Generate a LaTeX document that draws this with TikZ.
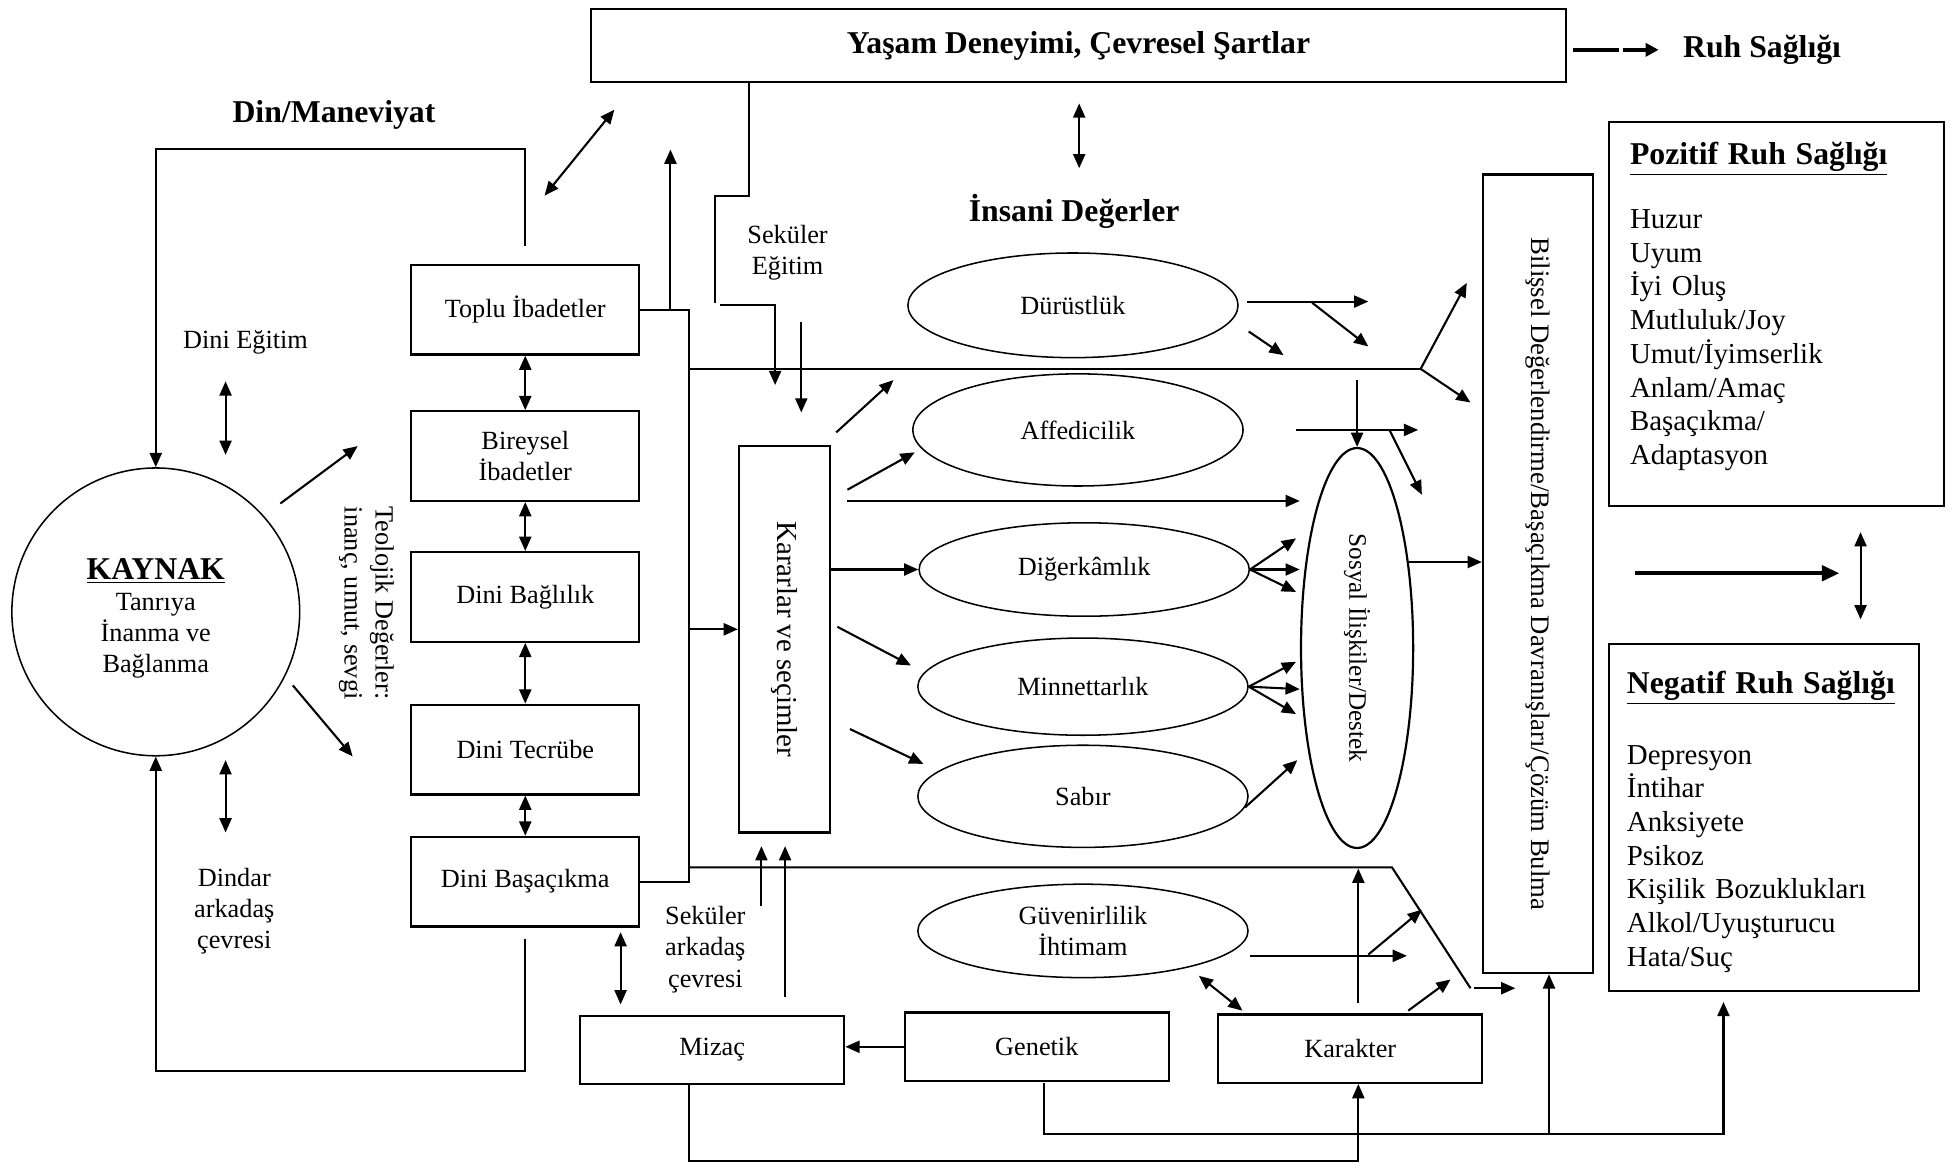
\documentclass[tikz,border=0pt]{standalone}
\usepackage{fontspec}
\setmainfont{Liberation Serif}
\usepackage{graphicx}
\usetikzlibrary{arrows.meta,shapes.geometric}
\newcommand{\bodyfs}{\fontsize{12}{14.2}\selectfont}
\newcommand{\headfs}{\fontsize{14.5}{17}\selectfont\bfseries}
\newcommand{\listfs}{\fontsize{13.2}{15.4}\selectfont}
\begin{document}
\begin{tikzpicture}
[x=0.02cm,y=-0.02cm,font=\bodyfs,
relbox/.style={draw,line width=1pt,minimum width=3.66cm,minimum height=1.44cm,align=center},
valell/.style={draw,ellipse,line width=0.7pt,minimum width=5.3cm,inner sep=0pt,align=center},
botbox/.style={draw,line width=1pt,minimum width=4.24cm,minimum height=1.1cm},
lbl/.style={align=center},
conn/.style={line width=0.95pt},
arr/.style={conn,-{Triangle[length=6.5pt,width=5.5pt]}},
darr/.style={conn,{Triangle[length=6.5pt,width=5.5pt]}-{Triangle[length=6.5pt,width=5.5pt]}},
thkarr/.style={line width=1.8pt,-{Triangle[length=8pt,width=7pt]}}]
\useasboundingbox (0,0) rectangle (1568,933);
% nodes
\node[draw,line width=1pt,minimum width=15.66cm,minimum height=1.18cm,font=\headfs] (yasam) at (865.5,36.5) {Yaşam Deneyimi, Çevresel Şartlar};
\node[font=\headfs] (ruh) at (1414,40) {Ruh Sağlığı};
\node[font=\headfs] (dinman) at (268,92) {Din/Maneviyat};
\node[font=\headfs] (insani) at (862,170) {İnsani Değerler};
\node[draw,circle,line width=0.7pt,minimum size=4.62cm,align=center] (kaynak) at (125,491) {{\headfs\rule{0pt}{15.5pt}\underline{KAYNAK}}\\Tanrıya\\İnanma ve\\Bağlanma};
\node[lbl] (dinegitim) at (197,275) {Dini Eğitim};
\node[lbl] (dindar) at (188,731) {Dindar\\arkadaş\\çevresi};
\node[lbl,rotate=-90] (teoloji) at (294,484) {Teolojik Değerler:\\inanç, umut, sevgi};
\node[relbox] (toplu) at (421.5,248.5) {Toplu İbadetler};
\node[relbox] (bireysel) at (421.5,366) {Bireysel\\İbadetler};
\node[relbox] (baglilik) at (421.5,479) {Dini Bağlılık};
\node[relbox] (tecrube) at (421.5,601.5) {Dini Tecrübe};
\node[relbox] (basacikma) at (421.5,707.5) {Dini Başaçıkma};
\node[lbl] (sekegitim) at (632,203) {Seküler\\Eğitim};
\node[lbl] (sekarkadas) at (566,762) {Seküler\\arkadaş\\çevresi};
\node[draw,line width=1pt,minimum width=1.46cm,minimum height=6.2cm] (kararlar) at (629.5,513) {\rotatebox{-90}{\fontsize{13.2}{15}\selectfont Kararlar ve seçimler}};
\node[valell,minimum height=1.68cm] (durust) at (861,245) {Dürüstlük};
\node[valell,minimum height=1.8cm] (affedici) at (865,345) {Affedicilik};
\node[valell,minimum height=1.5cm] (digerkam) at (870,457) {Diğerkâmlık};
\node[valell,minimum height=1.56cm] (minnet) at (869,551) {Minnettarlık};
\node[valell,minimum height=1.64cm] (sabir) at (869,639) {Sabır};
\node[valell,minimum height=1.5cm] (guven) at (869,747) {Güvenirlilik\\İhtimam};
\node[draw,ellipse,line width=1pt,minimum width=1.8cm,minimum height=6.42cm,inner sep=0pt] (sosyal) at (1089,520) {\rotatebox{-90}{\fontsize{11.5}{14}\selectfont Sosyal İlişkiler/Destek}};
\node[draw,line width=1pt,minimum width=1.76cm,minimum height=12.82cm] (bilissel) at (1234,460.5) {\rotatebox{-90}{\fontsize{12.2}{14}\selectfont Bilişsel Değerlendirme/Başaçıkma Davranışları/Çözüm Bulma}};
\node[draw,line width=1pt,minimum width=5.38cm,minimum height=6.16cm,text width=4.7cm,inner xsep=0.34cm,align=left,font=\listfs] (pozitif) at (1425.5,252) {{\headfs\underline{Pozitif Ruh Sağlığı}}\\[14pt]Huzur\\Uyum\\İyi Oluş\\Mutluluk/Joy\\Umut/İyimserlik\\Anlam/Amaç\\Başaçıkma/\\Adaptasyon\rule[-10pt]{0pt}{10pt}};
\node[draw,line width=1pt,minimum width=4.98cm,minimum height=5.56cm,text width=4.4cm,inner xsep=0.29cm,align=left,font=\listfs] (negatif) at (1415.5,656) {{\headfs\rule{0pt}{14pt}\underline{Negatif Ruh Sağlığı}}\\[17pt]Depresyon\\İntihar\\Anksiyete\\Psikoz\\Kişilik Bozuklukları\\Alkol/Uyuşturucu\\Hata/Suç};
\node[botbox] (mizac) at (571.5,842.5) {Mizaç};
\node[botbox] (genetik) at (832,840) {Genetik};
\node[botbox] (karakter) at (1083.5,841.5) {Karakter};
% free ends
\coordinate (ka1) at (225,404); \coordinate (ka2) at (287,358);
\coordinate (kb1) at (235,550); \coordinate (kb2) at (283,607);
\coordinate (de1) at (181,306); \coordinate (de2) at (181,365);
\coordinate (dd1) at (181,610); \coordinate (dd2) at (181,668);
\coordinate (ctop) at (553,248.5); \coordinate (cbot) at (553,707.5); \coordinate (cin) at (553,505);
\coordinate (tup) at (538,120);
\coordinate (hl1) at (553,296); \coordinate (fork) at (1140,296);
\coordinate (fk1) at (1177,227); \coordinate (fk2) at (1180,323);
\coordinate (hl2) at (553,696); \coordinate (bend) at (1117,696);
\coordinate (dgl) at (1180,793); \coordinate (dga) at (1183,793); \coordinate (dgb) at (1216,793);
\coordinate (ys1) at (601,66); \coordinate (se1) at (578,245);
\coordinate (sea) at (643,258); \coordinate (seb) at (643,331);
\coordinate (yd1) at (437,157); \coordinate (yd2) at (493,88);
\coordinate (yi1) at (866,83); \coordinate (yi2) at (866,135);
\coordinate (kr1) at (671,347); \coordinate (kr1e) at (717,305);
\coordinate (kr2) at (680,393); \coordinate (kr2e) at (734,363);
\coordinate (kr3) at (680,402); \coordinate (kr3e) at (1043,402);
\coordinate (kr5) at (672,503); \coordinate (kr5e) at (731,534);
\coordinate (kr6) at (682,585); \coordinate (kr6e) at (741,613);
\coordinate (du1) at (1001,242); \coordinate (du1e) at (1098,242);
\coordinate (du2) at (1053,243); \coordinate (du2e) at (1098,278);
\coordinate (du3) at (1002,266); \coordinate (du3e) at (1030,285);
\coordinate (af1) at (1040,345); \coordinate (af1e) at (1138,345);
\coordinate (af2) at (1089,305);
\coordinate (af3) at (1115,345); \coordinate (af3e) at (1141,397);
\coordinate (dk1) at (1040,432); \coordinate (dk2) at (1043,457); \coordinate (dk3) at (1040,475);
\coordinate (mn1) at (1040,531); \coordinate (mn2) at (1043,553); \coordinate (mn3) at (1040,573);
\coordinate (sb1) at (999,648); \coordinate (sb1e) at (1041,610);
\coordinate (gv1) at (1003,767); \coordinate (gv1e) at (1129,767);
\coordinate (kv1) at (1090,805); \coordinate (kv1e) at (1090,697);
\coordinate (kd1) at (1098,766); \coordinate (kd1e) at (1141,730);
\coordinate (kk1) at (1130,811); \coordinate (kk1e) at (1164,786);
\coordinate (gk1) at (962,783); \coordinate (gk2) at (997,811);
\coordinate (ms1) at (498,748); \coordinate (ms2) at (498,806);
\coordinate (sa1) at (611,727); \coordinate (sa1e) at (611,679);
\coordinate (sa2) at (630,800); \coordinate (sa2e) at (630,679);
\coordinate (mzb) at (553,870); \coordinate (gnb) at (838,869);
\coordinate (bj) at (1243,910); \coordinate (nb) at (1383,804);
\coordinate (r1) at (1262,40); \coordinate (r2) at (1299,40); \coordinate (r3) at (1302,40); \coordinate (r4) at (1331,40);
\coordinate (ta1) at (1312,460); \coordinate (ta2) at (1476,460);
\coordinate (pn1) at (1493,427); \coordinate (pn2) at (1493,497);
% connectors
\draw[arr] ([yshift=8pt]toplu.north) -- ++(0,-78) -| (kaynak.north);
\draw[arr] ([yshift=-5pt]basacikma.south) -- ++(0,106) -| (kaynak.south);
\draw[arr] (ka1) -- (ka2); \draw[arr] (kb1) -- (kb2);
\draw[darr] (de1) -- (de2); \draw[darr] (dd1) -- (dd2);
\draw[darr] (toplu) -- (bireysel); \draw[darr] (bireysel) -- (baglilik);
\draw[darr] (baglilik) -- (tecrube); \draw[darr] (tecrube) -- (basacikma);
\draw[conn] (toplu.east) -- (ctop) -- (cbot) -- (basacikma.east);
\draw[arr] (ctop -| tup) -- (tup);
\draw[arr] (cin) -- (cin -| kararlar.west);
\draw[conn] (hl1) -- (fork); \draw[arr] (fork) -- (fk1); \draw[arr] (fork) -- (fk2);
\draw[conn] (hl2) -- (bend) -- (dgl); \draw[arr] (dga) -- (dgb);
\draw[conn] (ys1) -- ++(0,91) -- ++(-27,0) -- ++(0,86);
\draw[arr] (se1) -- ++(44,0) -- ++(0,64);
\draw[arr] (sea) -- (seb);
\draw[darr] (yd1) -- (yd2); \draw[darr] (yi1) -- (yi2);
\draw[arr] (kr1) -- (kr1e); \draw[arr] (kr2) -- (kr2e); \draw[arr] (kr3) -- (kr3e);
\draw[arr] (kararlar.east |- digerkam) -- (digerkam.west);
\draw[arr] (kr5) -- (kr5e); \draw[arr] (kr6) -- (kr6e);
\draw[arr] (du1) -- (du1e); \draw[arr] (du2) -- (du2e); \draw[arr] (du3) -- (du3e);
\draw[arr] (af1) -- (af1e); \draw[arr] (af2) -- (sosyal.north); \draw[arr] (af3) -- (af3e);
\draw[arr] (digerkam.east) -- (dk1); \draw[arr] (digerkam.east) -- (dk2); \draw[arr] (digerkam.east) -- (dk3);
\draw[arr] (minnet.east) -- (mn1); \draw[arr] (minnet.east) -- (mn2); \draw[arr] (minnet.east) -- (mn3);
\draw[arr] (sb1) -- (sb1e);
\draw[arr] (sosyal.59) -- (sosyal.59 -| bilissel.west);
\draw[arr] (gv1) -- (gv1e); \draw[arr] (kv1) -- (kv1e);
\draw[arr] (kd1) -- (kd1e); \draw[arr] (kk1) -- (kk1e);
\draw[darr] (gk1) -- (gk2);
\draw[arr] (genetik.west) -- (genetik.west -| mizac.east);
\draw[darr] (ms1) -- (ms2);
\draw[arr] (sa1) -- (sa1e); \draw[arr] (sa2) -- (sa2e);
\draw[arr] (mzb) -- ++(0,62) -| (kv1 |- karakter.south);
\draw[arr] (gnb) -- ++(0,41) -| (nb);
\draw[arr] (bj) -- (bj |- bilissel.south);
\draw[line width=1.6pt] (r1) -- (r2); \draw[line width=1.6pt,-{Triangle[length=6pt,width=6pt]}] (r3) -- (r4);
\draw[thkarr] (ta1) -- (ta2);
\draw[darr] (pn1) -- (pn2);
\end{tikzpicture}
\end{document}
